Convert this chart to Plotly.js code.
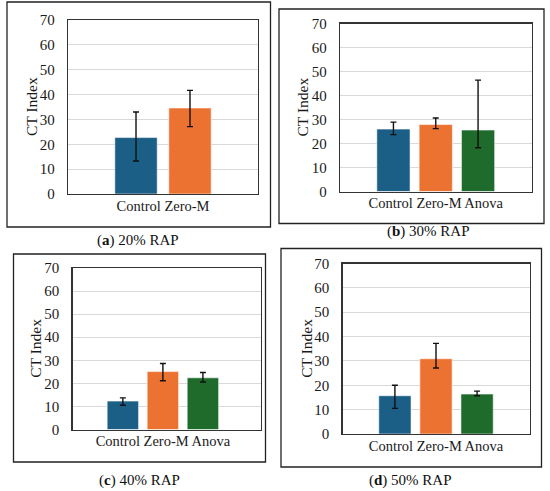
<!DOCTYPE html>
<html>
<head>
<meta charset="utf-8">
<script src="https://cdn.plot.ly/plotly-3.0.1.min.js"></script>
<style>html,body{margin:0;padding:0;background:#fff;}#chart{width:550px;height:491px;}</style>
</head>
<body>
<div id="chart"></div>
<script>
// ---- Data ----
const catsA = ['Control', 'Zero-M'];
const valsA = [22.7, 34.6];
const errPlusA = [10.3, 7.1];
const errMinusA = [9.4, 7.5];

const catsB = ['Control', 'Zero-M', 'Anova'];
const valsB = [26.0, 27.9, 25.6];
const errPlusB = [2.9, 2.7, 20.8];
const errMinusB = [2.3, 1.7, 7.4];

const catsC = ['Control', 'Zero-M', 'Anova'];
const valsC = [12.3, 25.1, 22.4];
const errPlusC = [1.4, 3.5, 2.3];
const errMinusC = [1.8, 4.0, 1.8];

const catsD = ['Control', 'Zero-M', 'Anova'];
const valsD = [15.7, 30.9, 16.4];
const errPlusD = [4.3, 6.3, 1.2];
const errMinusD = [5.2, 3.8, 0.7];

const yTicks = [0, 10, 20, 30, 40, 50, 60, 70];
const captions = ['(<b>a</b>) 20% RAP', '(<b>b</b>) 30% RAP', '(<b>c</b>) 40% RAP', '(<b>d</b>) 50% RAP'];
const yTitle = 'CT Index';

// ---- Styles ----
const colors = {'Control': '#1b5e86', 'Zero-M': '#ec7231', 'Anova': '#1e6b2c'};
const W = 550, H = 491;
const FONT = '"Liberation Serif", "Times New Roman", serif';
const px = v => v / W;
const py = v => 1 - v / H;

const panels = [
  {cats: catsA, vals: valsA, ep: errPlusA, em: errMinusA,
   plot: [68, 258, 20, 194], box: [7, 270.5, 2, 227], range: [-0.616, 0.616], cap: [138, 240], ytx: 31},
  {cats: catsB, vals: valsB, ep: errPlusB, em: errMinusB,
   plot: [340, 531.5, 23.5, 191.5], box: [279, 544, 9, 223.5], range: [-0.528, 0.528], cap: [428, 231], ytx: 302},
  {cats: catsC, vals: valsC, ep: errPlusC, em: errMinusC,
   plot: [72.5, 261, 268, 429.5], box: [13.5, 265.5, 254, 462], range: [-0.527, 0.572], cap: [140, 480], ytx: 36},
  {cats: catsD, vals: valsD, ep: errPlusD, em: errMinusD,
   plot: [342.5, 529.5, 263.5, 434], box: [281, 541.5, 248.5, 467], range: [-0.531, 0.531], cap: [410, 480], ytx: 307}
];

const traces = [];
const layout = {
  width: W, height: H,
  margin: {l: 0, r: 0, t: 0, b: 0},
  paper_bgcolor: '#fff', plot_bgcolor: '#fff',
  showlegend: false,
  barmode: 'group', bargap: 0.3, bargroupgap: 0.215,
  font: {family: FONT, size: 14, color: '#222'},
  shapes: [], annotations: []
};

panels.forEach((p, i) => {
  const n = i === 0 ? '' : String(i + 1);
  const xa = 'x' + n, ya = 'y' + n;
  const label = p.cats.join(' ');
  p.cats.forEach((c, j) => {
    traces.push({
      type: 'bar', x: [label], y: [p.vals[j]], name: c,
      xaxis: xa, yaxis: ya,
      marker: {color: colors[c], line: {color: 'rgba(255,255,255,0.55)', width: 1}},
      error_y: {type: 'data', symmetric: false, array: [p.ep[j]], arrayminus: [p.em[j]],
                color: '#111', thickness: 1.4, width: 3},
      hoverinfo: 'y'
    });
  });
  layout['xaxis' + n] = {
    domain: [px(p.plot[0]), px(p.plot[1])], anchor: ya, type: 'category',
    range: p.range, showgrid: false, zeroline: false,
    showline: true, mirror: true, linecolor: '#333', linewidth: 1.2,
    ticks: '', tickangle: 0, ticklabelstandoff: -2, tickfont: {family: FONT, size: 14.5, color: '#1a1a1a'},
    automargin: false, fixedrange: true
  };
  layout['yaxis' + n] = {
    domain: [py(p.plot[3]), py(p.plot[2])], anchor: xa,
    range: [0, 70], tickvals: yTicks, ticktext: yTicks.map(String),
    showgrid: true, gridcolor: '#d9d9d9', gridwidth: 1, zeroline: false,
    showline: true, mirror: true, linecolor: '#333', linewidth: 1.2,
    ticks: '', ticklabelstandoff: 9, tickfont: {family: FONT, size: 15, color: '#1a1a1a'},
    automargin: false, fixedrange: true
  };
  layout.annotations.push({
    xref: 'paper', yref: 'paper', x: px(p.ytx), y: py((p.plot[2] + p.plot[3]) / 2),
    text: yTitle, textangle: -90, showarrow: false, xanchor: 'center', yanchor: 'middle',
    font: {family: FONT, size: 15.5, color: '#1a1a1a'}
  });
  layout.annotations.push({
    xref: 'paper', yref: 'paper', x: px(p.cap[0]), y: py(p.cap[1]),
    text: captions[i], showarrow: false, xanchor: 'center', yanchor: 'middle',
    font: {family: FONT, size: 15, color: '#111'}
  });
  layout.shapes.push({
    type: 'rect', xref: 'paper', yref: 'paper',
    x0: px(p.box[0]), x1: px(p.box[1]), y0: py(p.box[3]), y1: py(p.box[2]),
    line: {color: '#222', width: 1.3}, fillcolor: 'rgba(0,0,0,0)', layer: 'below'
  });
});

Plotly.newPlot('chart', traces, layout, {displayModeBar: false, staticPlot: true});
</script>
</body>
</html>
